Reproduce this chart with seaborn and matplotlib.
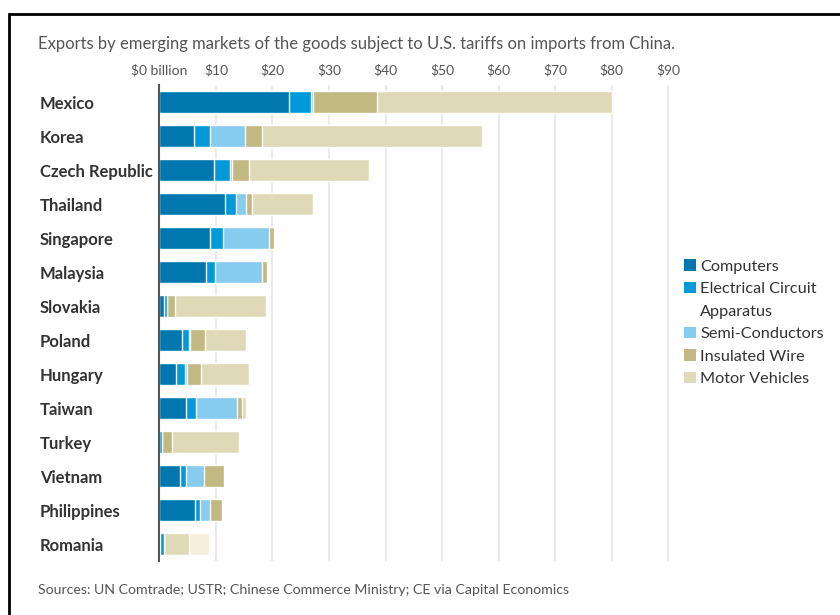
import matplotlib
matplotlib.use("Agg")
import matplotlib.pyplot as plt
import seaborn as sns
import numpy as np
import pandas as pd
from matplotlib.lines import Line2D
from matplotlib.patches import Patch

countries = ["Mexico", "Korea", "Czech Republic", "Thailand", "Singapore", "Malaysia",
             "Slovakia", "Poland", "Hungary", "Taiwan", "Turkey", "Vietnam",
             "Philippines", "Romania"]
computers = [23.0, 6.1, 9.7, 11.6, 9.0, 8.3, 0.9, 4.0, 2.9, 4.7, 0.0, 3.7, 6.3, 0.1]
electrical = [3.8, 2.8, 2.8, 1.9, 2.3, 1.6, 0.4, 1.3, 1.6, 1.8, 0.5, 1.0, 0.8, 0.8]
semis = [0.4, 6.2, 0.3, 1.9, 8.1, 8.3, 0.1, 0.1, 0.3, 7.2, 0.0, 3.2, 1.8, 0.0]
insulated = [11.3, 3.0, 3.1, 0.9, 0.8, 0.8, 1.3, 2.7, 2.5, 0.9, 1.8, 3.5, 2.1, 0.0]
motor = [41.6, 38.9, 21.2, 10.9, 0.0, 0.0, 16.1, 7.3, 8.5, 0.7, 11.7, 0.0, 0.0, 4.4]
other = [0, 0, 0, 0, 0, 0, 0, 0, 0, 0, 0, 0, 0, 3.4]

series_names = ["Computers", "Electrical Circuit", "Semi-Conductors",
                "Insulated Wire", "Motor Vehicles"]
colors = ["#0077ae", "#009ada", "#86ccef", "#c2b982", "#e0d9b8"]
other_color = "#f8eedc"
x_ticks = [0, 10, 20, 30, 40, 50, 60, 70, 80, 90]
x_tick_labels = ["$0 billion", "$10", "$20", "$30", "$40", "$50", "$60", "$70", "$80", "$90"]

sns.set_theme(style="white")
plt.rcParams["font.family"] = ["Lato", "DejaVu Sans"]

df = pd.DataFrame({"country": countries, "c1": computers, "c2": electrical, "c3": semis,
                   "c4": insulated, "c5": motor, "c6": other})
cols = ["c1", "c2", "c3", "c4", "c5", "c6"]
cum = df[cols].cumsum(axis=1)

fig = plt.figure(figsize=(8.4, 6.15), dpi=100)
ax = fig.add_axes([159.4 / 840, 1 - 561 / 615, (670 - 159.4) / 840, 476 / 615])

all_colors = colors + [other_color]
for i in range(len(cols) - 1, -1, -1):
    sns.barplot(x=cum[cols[i]], y=df["country"], order=countries, orient="y",
                color=all_colors[i], saturation=1, width=0.66,
                edgecolor="white", linewidth=1.0, ax=ax)

ax.set_xlim(0, 90.3)
ax.set_ylim(13.5, -0.5)
ax.xaxis.tick_top()
ax.set_xticks(x_ticks)
ax.set_xticklabels(x_tick_labels, color="#555555", fontsize=10)
ax.tick_params(axis="x", length=0, pad=6)
ax.tick_params(axis="y", length=0, pad=86)
for lbl in ax.get_yticklabels():
    lbl.set_horizontalalignment("left")
    lbl.set_fontweight("bold")
    lbl.set_fontsize(12)
    lbl.set_color("#333333")
ax.set_xlabel("")
ax.set_ylabel("")
ax.grid(axis="x", color="#e6e6e6", linewidth=1.2)
ax.set_axisbelow(True)
for s in ["top", "right", "bottom"]:
    ax.spines[s].set_visible(False)
ax.spines["left"].set_color("#555555")
ax.spines["left"].set_linewidth(1.5)
ax.spines["left"].set_zorder(5)

handles = [Patch(facecolor=c, edgecolor="none") for c in colors]
handles.insert(2, Patch(facecolor="none", edgecolor="none"))
labels = list(series_names)
labels.insert(2, "Apparatus")
leg = fig.legend(handles, labels, loc="upper left",
                 bbox_to_anchor=(676 / 840, 1 - 251 / 615), frameon=False,
                 fontsize=11.7, handlelength=0.7, handleheight=0.7,
                 handletextpad=0.3, labelspacing=0.5, borderpad=0)
for t in leg.get_texts():
    t.set_color("#333333")

fig.text(38 / 840, 1 - 44 / 615, "Exports by emerging markets of the goods subject to U.S. tariffs on imports from China.",
         ha="left", va="center", fontsize=12, color="#555555")
fig.text(38 / 840, 1 - 590 / 615, "Sources: UN Comtrade; USTR; Chinese Commerce Ministry; CE via Capital Economics",
         ha="left", va="center", fontsize=10.2, color="#555555")

fig.add_artist(Line2D([9 / 840, 1.0], [1 - 14 / 615, 1 - 14 / 615], color="black", linewidth=2,
                      transform=fig.transFigure))
fig.add_artist(Line2D([9 / 840, 9 / 840], [1 - 14 / 615, 0.0], color="black", linewidth=2,
                      transform=fig.transFigure))

fig.savefig("out.png", dpi=100)
